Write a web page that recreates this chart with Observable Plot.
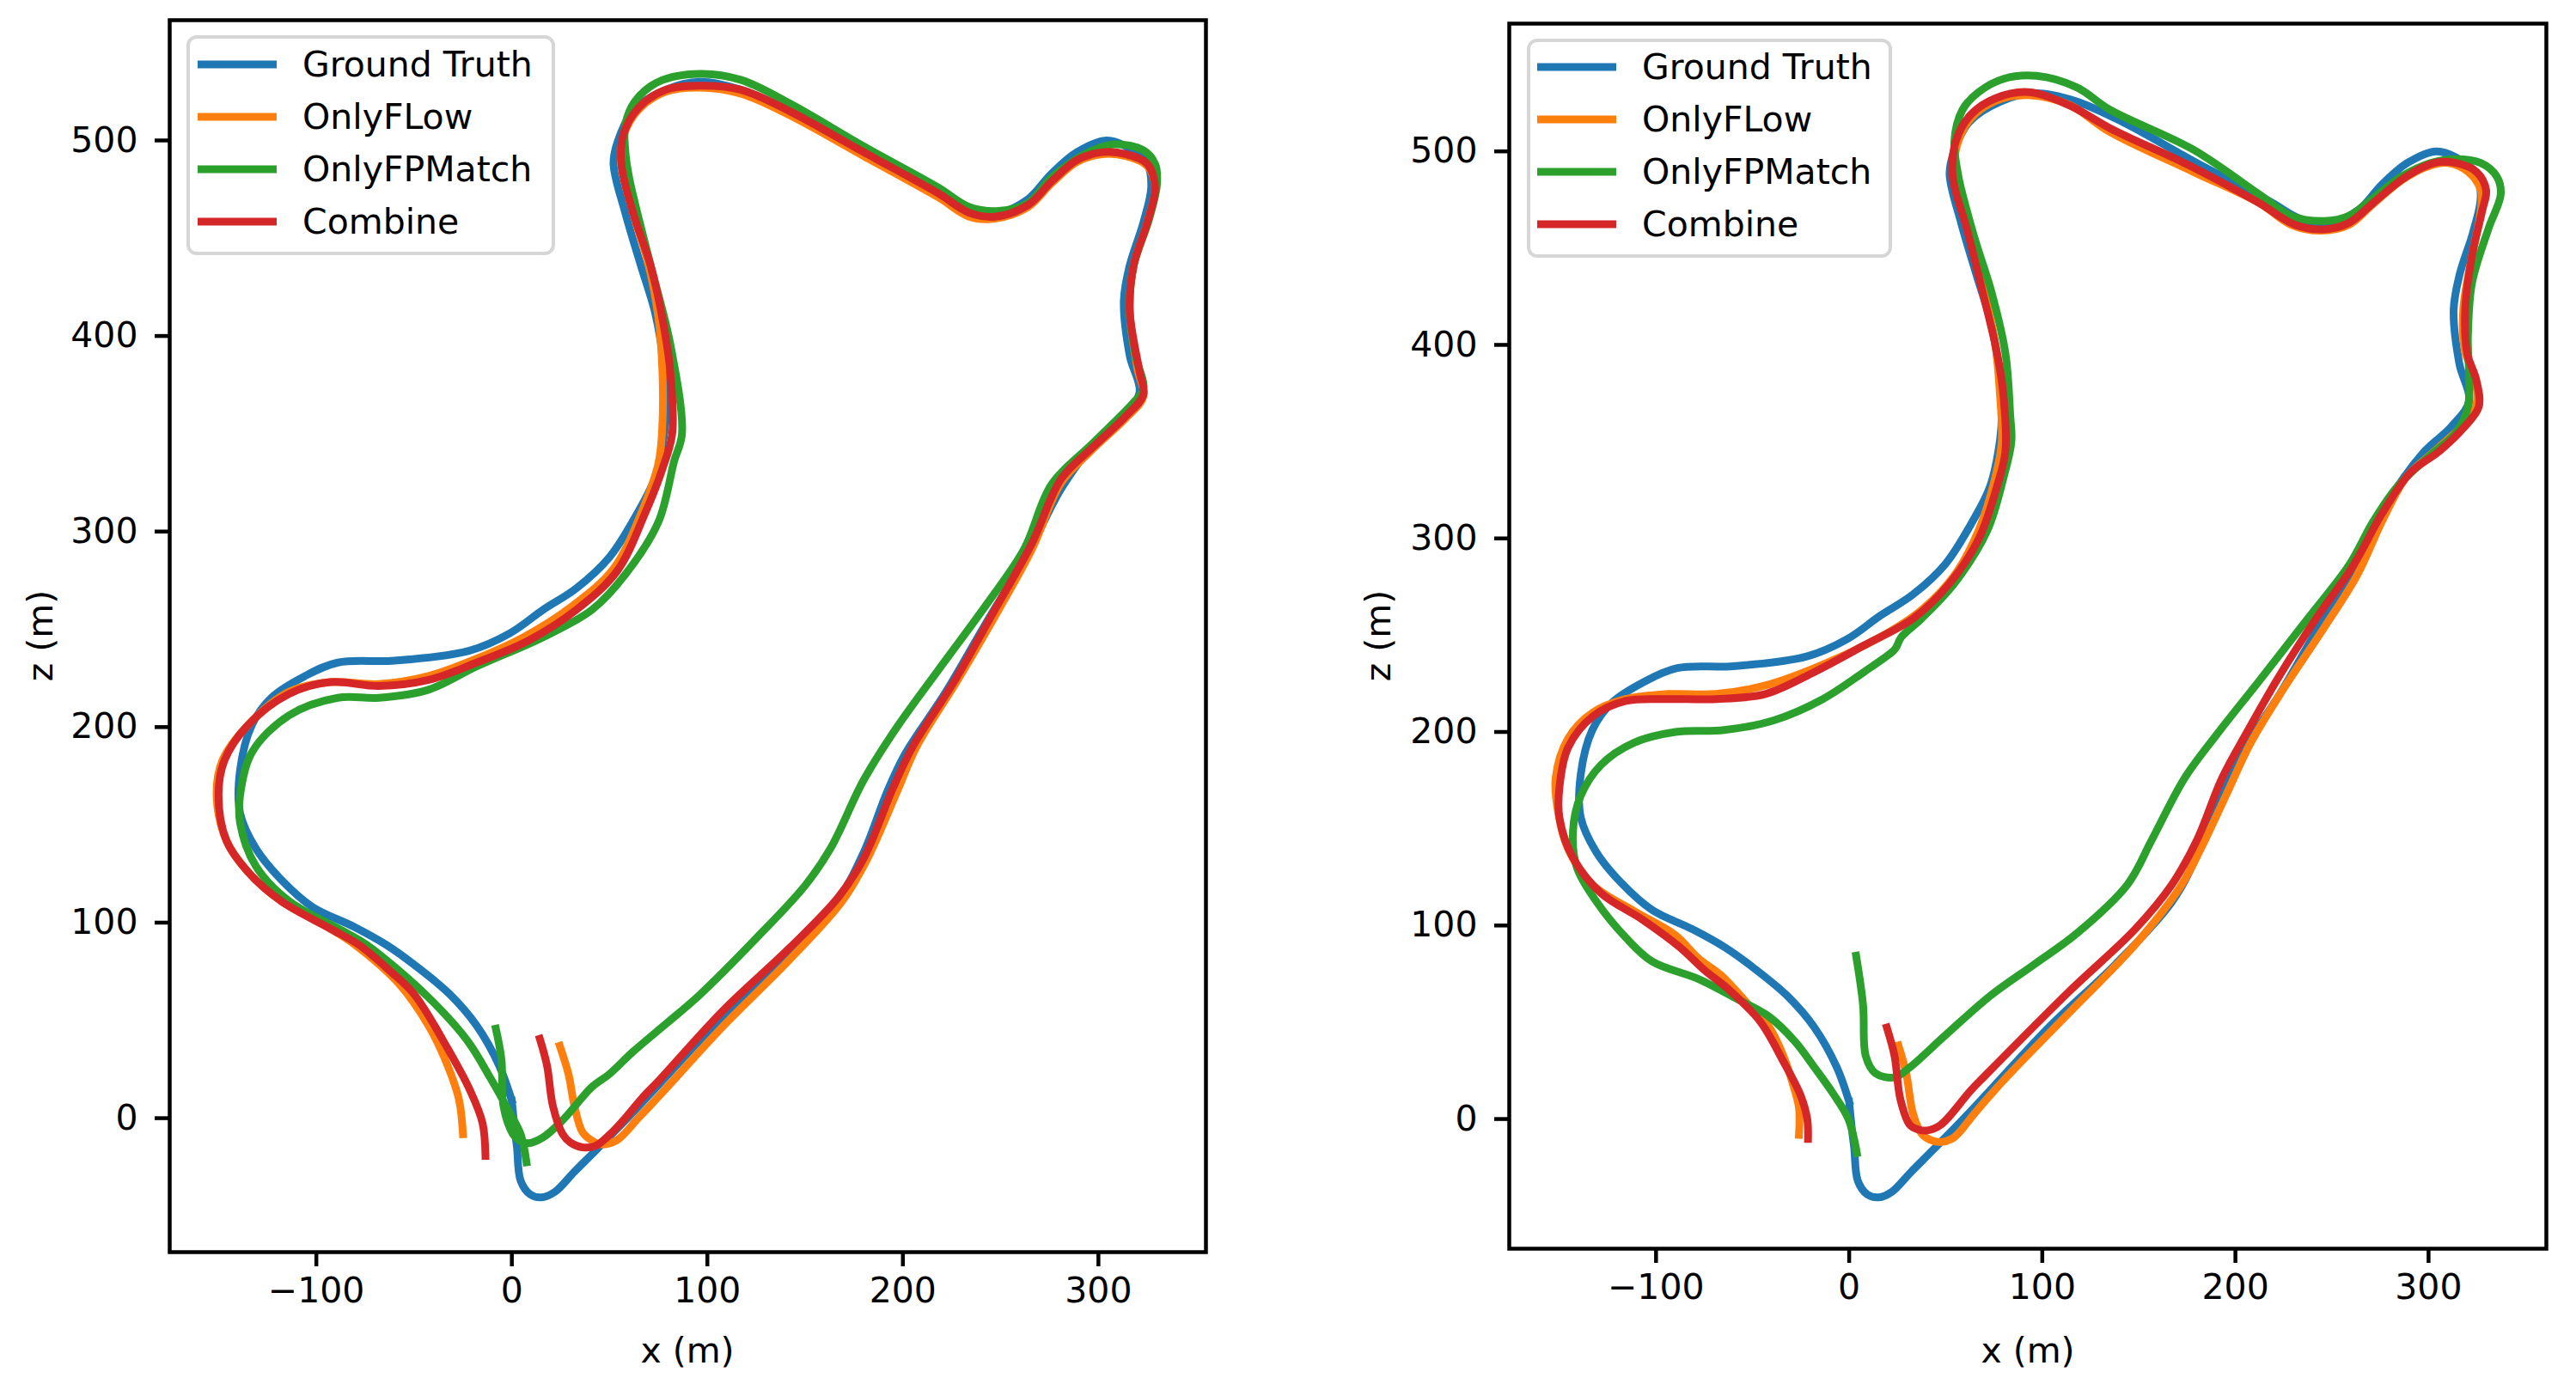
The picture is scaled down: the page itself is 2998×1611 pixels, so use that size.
<!DOCTYPE html>
<html>
<head>
<meta charset="utf-8">
<script src="https://cdn.jsdelivr.net/npm/d3@7"></script>
<script src="https://cdn.jsdelivr.net/npm/@observablehq/plot@0.6"></script>
<style>
  html, body { margin: 0; padding: 0; background: #ffffff; }
  #fig { position: relative; width: 2998px; height: 1611px; background: #ffffff; font-family: "DejaVu Sans", sans-serif; color: #000; overflow: hidden; }
  .panel { position: absolute; top: 0; }
  .axlabel { position: absolute; font-size: 41px; white-space: nowrap; line-height: 1; }
  .legend { position: absolute; border: 4px solid #d6d6d6; border-radius: 12px; background: rgba(255,255,255,0.8); box-sizing: border-box; }
  .legrow { position: absolute; display: flex; align-items: center; font-size: 41px; line-height: 1; white-space: nowrap; }
  .legline { display: inline-block; height: 9px; }
</style>
</head>
<body>
<div id="fig"></div>
<script>
// ---------------- data ----------------
const seriesNames = ["Ground Truth", "OnlyFLow", "OnlyFPMatch", "Combine"];
const seriesColors = ["#1f77b4", "#ff7f0e", "#2ca02c", "#d62728"];
const xTicks = [-100, 0, 100, 200, 300];
const zTicks = [0, 100, 200, 300, 400, 500];

// ground truth (identical in both panels), [x, z]
const groundTruth = [[0,8.9],[1.6,-6.9],[2.6,-14.8],[4.5,-32],[9.4,-39],[15.3,-40.5],[22,-37.7],[32,-27.4],[43.8,-15.6],[59.5,0.4],[75,17],[104,48],[138,80],[167,112],[180,136],[192,167],[201,186],[222,218],[243,254],[264,289],[281,322],[297,344],[312,358],[321,371],[316,390],[313,418],[316,436],[323,458],[327,476],[325,488],[314,497],[304,500],[289,494],[276,483],[264,470],[249,463],[234,465],[218,474],[180,494],[142,515],[117,526],[96,530],[79,526],[62,515],[54,499],[52,488],[58,463],[66,436],[73,413],[77,391],[79,364],[78,350],[73,327],[64,309],[50,287],[33,271],[16,260],[-1,248],[-22,239],[-60,234],[-89,233],[-106,226],[-123,215],[-133,201],[-139,178],[-139,156],[-131,138],[-118,122],[-102,108],[-81,98],[-64,88.5],[-50,78.5],[-32,63.6],[-18,47.3],[-6.4,26.7],[0,8.9]];

// left panel estimates
const leftOnlyFLow = [[24.5,37],[29,22.4],[32,6.2],[36,-6.9],[41,-11.5],[45.7,-13.4],[53.6,-11.3],[65,0.4],[75,11],[108,47],[142,81],[169,111],[182,133],[197,167],[207,190],[228,224],[249,260],[266,291],[281,325],[297,342],[314,358],[323,369],[320,383],[316,413],[318,436],[325,458],[329,476],[325,487],[314,492],[302,493],[289,489],[276,478],[264,466],[247,460],[234,461],[218,471],[180,492],[142,513],[117,524],[96,527],[79,525],[65,516],[57,502],[56,488],[62,463],[70,436],[75,409],[77,382],[77,355],[75,335],[66,309],[52,281],[31,262],[6,246],[-18,235],[-43,226],[-68,222],[-93,223],[-114,218],[-135,201],[-148,183],[-151,165],[-146,142],[-135,126],[-118,111],[-93,97],[-80,88.5],[-58,69],[-42.6,47.3],[-32.8,26.8],[-27,9.3],[-25,-8.2]];
const leftOnlyFPMatch = [[-8.2,45.8],[-5.3,29.8],[-4.3,6.2],[0.6,-8.2],[4,-11.5],[8.4,-12.8],[16,-9.8],[26,-1],[41,16],[49.7,22.4],[62,34],[79,48.4],[96,63],[125,92],[150,119],[163,138],[180,173],[197,200],[218,229],[243,263],[262,291],[276,324],[297,345],[318,366],[323,373],[319,390],[316,413],[318,436],[326,460],[330,478],[329,488],[323,495],[308,498],[293,493],[276,481],[264,468],[249,464],[234,466],[218,476],[180,497],[142,519],[117,531],[96,534],[75,530],[63,520],[58,508],[58,495],[60,481],[71,436],[81,396],[87,350],[83,336],[75,305],[58,278],[41,260],[16,246],[-18,231],[-43,219],[-68,215],[-89,215],[-114,206],[-133,187],[-139,165],[-139,151],[-131,129],[-114,111],[-85,95],[-74,88.5],[-42.6,61.7],[-23,40],[-11,20.6],[-1.4,3.4],[4.5,-8.2],[7.5,-22.6]];
const leftCombine = [[14.3,40.6],[18,26.8],[21,6.2],[26,-8.2],[30,-12.5],[36,-14.9],[42.8,-14.2],[51.6,-6.9],[58,0],[67,10.7],[75,19],[108,55],[142,87],[167,113],[180,133],[195,169],[205,190],[226,223],[247,260],[266,294],[281,327],[297,343],[314,359],[323,370],[321,382],[316,413],[318,436],[325,458],[329,476],[325,488],[314,493],[302,494],[289,490],[276,479],[264,467],[247,461],[234,463],[218,473],[180,494],[142,515],[117,526],[96,528],[79,526],[65,517],[57,503],[56,488],[62,463],[71,436],[77,409],[81,382],[82,350],[77,332],[68,309],[54,280],[33,260],[8,244],[-18,233],[-43,224],[-68,221],[-93,223],[-114,217],[-135,201],[-147,183],[-150,165],[-146,142],[-135,126],[-118,111],[-93,97],[-78,88.5],[-62,75],[-50,63.4],[-32.8,35.6],[-21,13.4],[-15,-2.5],[-13.5,-19.3]];

// right panel estimates
const rightOnlyFLow = [[25.5,38],[29.5,23.8],[33,3],[37.4,-7.4],[42,-10.8],[47.4,-11.9],[53,-10.3],[57,-6.9],[65,3],[80,20],[114,55],[148,90],[171.5,120],[182,139.5],[195,167],[207.7,194],[224.7,222],[246,254],[263,281],[276,309],[288.5,331.7],[303,345],[318,359],[325,370.5],[323,386.5],[319,396],[318,418.6],[322.5,446],[327,469],[327,480],[320.4,489.5],[310,494],[299,492],[286,485],[271.5,473],[258.7,462],[244,459],[229,462],[212,473.5],[178,489.5],[135,510],[114,524],[92.8,529],[75.7,526],[63,517],[56.6,505.5],[54.5,492],[61,464],[69,432],[75.7,400],[77.9,377],[79,350],[75.7,331.7],[67,304],[54.5,281],[37.4,263],[16,249],[-18,233],[-43.4,224],[-69,219.6],[-94.5,219.6],[-115.7,217],[-132.8,210],[-145.5,196.7],[-152,176],[-150.6,158],[-145.5,139.5],[-132.8,121],[-111.5,107.5],[-90,95],[-78,83],[-66,74],[-52,59],[-42,48.5],[-34,32.5],[-29,17.6],[-26,5.9],[-26,-8.2]];
const rightOnlyFPMatch = [[3.6,84.4],[7.2,58.9],[8.6,32.5],[13.5,23.7],[23.5,21.5],[31.4,26.7],[49.4,42.9],[73,63.6],[96,80],[118,96],[144,121],[156.6,144],[173.6,176],[190.6,199],[212,226],[237.4,258.5],[258.7,286],[271.5,309],[284,327],[301,343],[314,354.5],[320.4,368],[320.4,405],[322.5,432],[331,460],[337.4,478],[335.3,487],[327,494],[314,496],[301,494],[286,487],[271.5,476],[258.7,466.6],[246,464],[229,466.6],[212,478],[178,501],[135,521.5],[118,533],[97,539],[80,537.5],[67,530.6],[58.7,521.5],[54.5,505.5],[56.6,487],[65,455],[73.6,427.7],[80.9,395.7],[83.4,363.7],[84,350],[80,331.7],[71.5,304],[54.5,276.8],[37.4,258.5],[27,249],[24.5,244],[23,242],[7.7,231],[-13.6,217],[-39,206],[-64.7,201],[-90,200],[-111.5,194.4],[-128.5,183],[-139,167],[-143,148.7],[-141,130],[-130.6,112],[-115.7,93.8],[-102,81.4],[-78,72.3],[-58,62],[-42,53.3],[-28,40],[-18,26.7],[-8.4,13.3],[-0.4,0],[4,-17.6]];
const rightCombine = [[19.5,47.3],[23.5,32.5],[26.5,10.3],[31.4,-3],[36,-5.5],[40.4,-5.9],[47.4,-3],[63,14.8],[70,22],[114,66],[148,98],[167,121],[180,144],[193,176],[205.5,199],[222.6,228.7],[241.7,258.5],[261,286],[276,313],[290.6,334],[305.5,345],[318,357],[326,368],[324.7,382],[320,395.7],[319,418.6],[322.5,446],[327.7,469],[329.8,480],[324.7,489.5],[314,494],[303,494],[288.5,487],[271.5,473.5],[258.7,463],[246,459.7],[231,462],[212,473.5],[178,491.8],[135,512],[114,523.8],[92.8,530.6],[75.7,527.4],[63,519],[55.3,505.5],[53.6,487],[61,459.7],[69,427.7],[76.6,395.7],[80,372.8],[80.9,345],[76.6,327],[67,299.6],[52,276.8],[33,258.5],[7.7,244.7],[-18,231],[-43.4,219.6],[-69,217],[-94.5,217],[-115.7,216],[-132.8,208],[-145.5,192],[-150,171.5],[-150,155.5],[-143,135],[-128.5,116.7],[-107,103],[-88,89],[-75,77],[-62,66.6],[-46,50.3],[-34,29.6],[-25,11.9],[-21.7,0],[-21.3,-10.3]];

const leftTrajectories = [groundTruth, leftOnlyFLow, leftOnlyFPMatch, leftCombine];
const rightTrajectories = [groundTruth, rightOnlyFLow, rightOnlyFPMatch, rightCombine];

// ---------------- drawing ----------------
const fig = document.getElementById("fig");
const FONT = 41;

function panel(trajs, opts) {
  const rows = [];
  trajs.forEach((pts, i) => pts.forEach((p, k) => rows.push({series: seriesNames[i], x: p[0], z: p[1], k})));
  const lineMarks = seriesNames.map((name) =>
    Plot.line(rows.filter(r => r.series === name), {
      x: "x", y: "z", stroke: "series", strokeWidth: 9,
      curve: "catmull-rom", strokeLinecap: "square", strokeLinejoin: "round"
    })
  );
  const svg = Plot.plot({
    width: opts.width, height: 1611,
    marginLeft: opts.ml, marginRight: opts.mr, marginTop: opts.mt, marginBottom: opts.mb,
    style: {fontFamily: "DejaVu Sans, sans-serif", fontSize: FONT + "px", background: "transparent", color: "#000", overflow: "visible"},
    x: {domain: opts.xdom, label: null},
    y: {domain: opts.ydom, label: null},
    color: {domain: seriesNames, range: seriesColors},
    marks: [
      ...lineMarks,
      Plot.frame({stroke: "#000", strokeWidth: 4.5}),
      Plot.axisX(xTicks, {tickSize: 17, tickPadding: 12, strokeWidth: 4.5, fontSize: FONT, tickFormat: d3.format("d"), label: null}),
      Plot.axisY(zTicks, {tickSize: 17, tickPadding: 20, strokeWidth: 4.5, fontSize: FONT, tickFormat: d3.format("d"), label: null})
    ]
  });
  const wrap = document.createElement("div");
  wrap.className = "panel";
  wrap.style.left = opts.left + "px";
  wrap.appendChild(svg);
  fig.appendChild(wrap);

  // axis titles
  const xl = document.createElement("div");
  xl.className = "axlabel";
  xl.textContent = "x (m)";
  xl.style.left = opts.xlabX + "px";
  xl.style.top = "1572px";
  xl.style.transform = "translate(-50%, -50%)";
  fig.appendChild(xl);
  const yl = document.createElement("div");
  yl.className = "axlabel";
  yl.textContent = "z (m)";
  yl.style.left = opts.ylabX + "px";
  yl.style.top = "740px";
  yl.style.transform = "translate(-50%, -50%) rotate(-90deg)";
  fig.appendChild(yl);

  // legend
  const lg = document.createElement("div");
  lg.className = "legend";
  lg.style.left = opts.leg.left + "px";
  lg.style.top = opts.leg.top + "px";
  lg.style.width = opts.leg.w + "px";
  lg.style.height = opts.leg.h + "px";
  fig.appendChild(lg);
  seriesNames.forEach((name, i) => {
    const row = document.createElement("div");
    row.className = "legrow";
    row.style.left = opts.leg.lineX + "px";
    row.style.top = (opts.leg.row0 + i * 61) + "px";
    row.style.transform = "translateY(-50%)";
    const ln = document.createElement("span");
    ln.className = "legline";
    ln.style.width = "92px";
    ln.style.background = seriesColors[i];
    const tx = document.createElement("span");
    tx.textContent = name;
    tx.style.marginLeft = "30px";
    row.appendChild(ln);
    row.appendChild(tx);
    fig.appendChild(row);
  });
}

panel(leftTrajectories, {
  left: 0, width: 1480, ml: 197, mr: 1480 - 1403, mt: 23, mb: 1611 - 1457,
  xdom: [-175, 355], ydom: [-68.5, 561.5],
  xlabX: 800, ylabX: 47,
  leg: {left: 217, top: 41, w: 429, h: 256, lineX: 230, row0: 75}
});
panel(rightTrajectories, {
  left: 1500, width: 1498, ml: 1756 - 1500, mr: 2998 - 2963, mt: 27, mb: 1611 - 1453,
  xdom: [-176, 361], ydom: [-67, 566],
  xlabX: 2360, ylabX: 1604,
  leg: {left: 1777, top: 45, w: 425, h: 255, lineX: 1789, row0: 78}
});
</script>
</body>
</html>
